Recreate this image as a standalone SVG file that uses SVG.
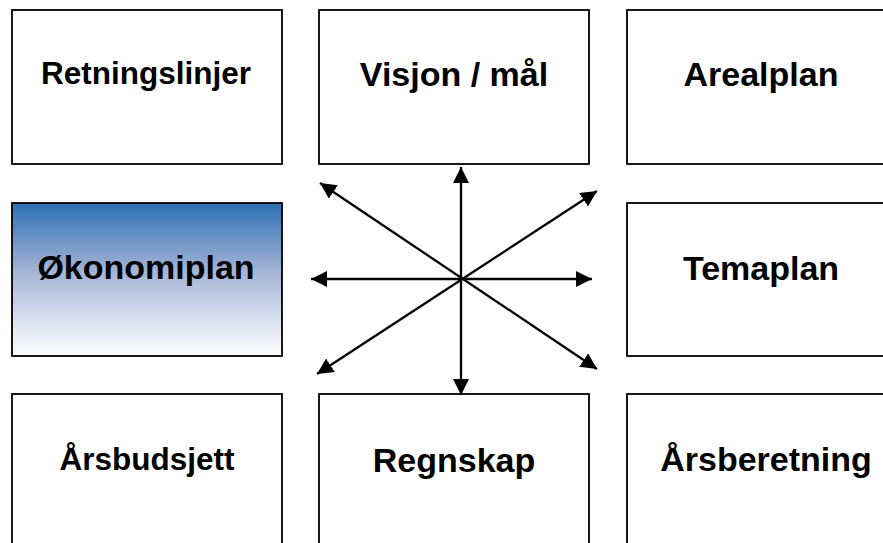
<svg xmlns="http://www.w3.org/2000/svg" width="883" height="543" viewBox="0 0 883 543">
<style>
.box{fill:#fff;stroke:#000;stroke-width:1.8}
.lbl{font-family:"Liberation Sans",Arial,sans-serif;font-weight:bold;font-size:34px;fill:#000;text-anchor:middle}
.sm{font-size:31.5px}
.con{stroke:#000;stroke-width:2.3;fill:none;marker-start:url(#ah);marker-end:url(#ah)}
</style>
<defs>
<linearGradient id="g" x1="0" y1="0" x2="0" y2="1">
<stop offset="0" stop-color="#2d70b4"/>
<stop offset="0.45" stop-color="#a5b4d6"/>
<stop offset="1" stop-color="#ffffff"/>
</linearGradient>
<marker id="ah" viewBox="0 0 10 10" refX="10" refY="5" markerWidth="7" markerHeight="7" orient="auto-start-reverse" markerUnits="strokeWidth">
<path d="M0,0 L10,5 L0,10 z" fill="#000"/>
</marker>
</defs>
<g id="retningslinjer"><rect class="box" x="12" y="10" width="270" height="154"/><text class="lbl sm" x="146" y="84">Retningslinjer</text></g>
<g id="visjon"><rect class="box" x="319" y="10" width="270" height="154"/><text class="lbl" x="454" y="86">Visjon / mål</text></g>
<g id="arealplan"><rect class="box" x="627" y="10" width="270" height="154"/><text class="lbl" x="761" y="86">Arealplan</text></g>
<g id="okonomiplan"><rect class="box" x="12" y="203" width="270" height="153" style="fill:url(#g)"/><text class="lbl" x="146" y="279">Økonomiplan</text></g>
<g id="temaplan"><rect class="box" x="627" y="203" width="270" height="153"/><text class="lbl" x="761" y="280">Temaplan</text></g>
<g id="arsbudsjett"><rect class="box" x="12" y="394" width="270" height="160"/><text class="lbl sm" x="147" y="470">Årsbudsjett</text></g>
<g id="regnskap"><rect class="box" x="319" y="394" width="270" height="160"/><text class="lbl" x="454" y="472">Regnskap</text></g>
<g id="arsberetning"><rect class="box" x="627" y="394" width="270" height="160"/><text class="lbl" x="766" y="471">Årsberetning</text></g>
<g id="connectors">
<line class="con" x1="461" y1="167" x2="461" y2="395"/>
<line class="con" x1="311" y1="279" x2="592" y2="279"/>
<line class="con" x1="320" y1="183" x2="597" y2="369"/>
<line class="con" x1="597" y1="191" x2="317" y2="374"/>
</g>
</svg>
